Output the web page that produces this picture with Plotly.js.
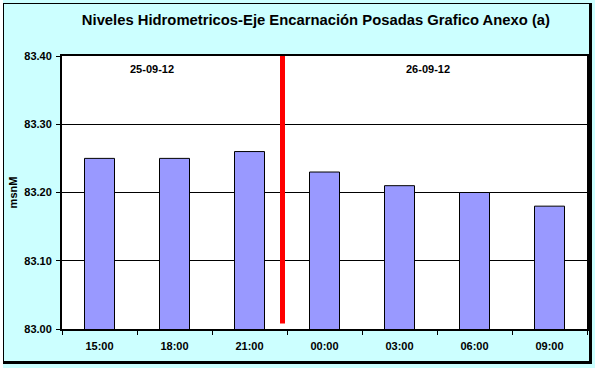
<!DOCTYPE html>
<html>
<head>
<meta charset="utf-8">
<script src="https://cdn.plot.ly/plotly-3.0.1.min.js"></script>
<style>
  html, body { margin: 0; padding: 0; background: #ffffff; }
  #wrap { position: relative; width: 595px; height: 368px; }
  #chart { width: 595px; height: 368px; }
  #frame { position: absolute; left: 3px; top: 3px; width: 589px; height: 361px;
           border-left: 1px solid #000; border-top: 1px solid #000;
           border-right: 3px solid #000; border-bottom: 3px solid #000;
           box-sizing: border-box; pointer-events: none; }
  #wrap::before { content: ""; position: absolute; left: 0; top: 0; width: 3px; height: 368px; background: #fff; z-index: 2; }
</style>
</head>
<body>
<div id="wrap">
  <div id="chart"></div>
  <div id="frame"></div>
</div>
<script>
const categories = ["15:00", "18:00", "21:00", "00:00", "03:00", "06:00", "09:00"];
const levels = [83.25, 83.25, 83.26, 83.23, 83.21, 83.20, 83.18];
const yTicks = [83.00, 83.10, 83.20, 83.30, 83.40];
const yTickLabels = ["83.00", "83.10", "83.20", "83.30", "83.40"];
const dayLabels = ["25-09-12", "26-09-12"];
const dividerPos = 2.44;       // category index position of the day divider
const dividerRange = [83.008, 83.40];

const bold = "Liberation Sans, Arial, sans-serif";

const trace = {
  type: "bar",
  x: categories,
  y: levels,
  base: 0,
  width: 0.4,
  marker: { color: "#9999FF", line: { color: "#000000", width: 1 } },
  hoverinfo: "x+y"
};

const layout = {
  width: 595,
  height: 368,
  paper_bgcolor: "#CCFFFF",
  plot_bgcolor: "#FFFFFF",
  margin: { l: 62, r: 8, t: 56, b: 39 },
  showlegend: false,
  title: {
    text: "<b>Niveles Hidrometricos-Eje Encarnación Posadas Grafico Anexo (a)</b>",
    font: { family: bold, size: 14.8, color: "#000000" },
    x: 0.531, xanchor: "center", y: 0.945, yanchor: "middle"
  },
  xaxis: {
    type: "category",
    range: [-0.5, 6.5],
    showline: true, linecolor: "#000", linewidth: 2, mirror: true,
    ticks: "outside", ticklen: 4, tickcolor: "#000", tickwidth: 1,
    tickson: "boundaries",
    ticklabelstandoff: 6,
    tickfont: { family: bold, size: 11, color: "#000" },
    tickprefix: "<b>", ticksuffix: "</b>",
    showgrid: false, zeroline: false, fixedrange: true
  },
  yaxis: {
    range: [83.0, 83.4],
    tickvals: yTicks,
    ticktext: yTickLabels.map(t => "<b>" + t + "</b>"),
    showline: true, linecolor: "#000", linewidth: 2, mirror: true,
    ticks: "outside", ticklen: 4, tickcolor: "#000", tickwidth: 1,
    ticklabelstandoff: 2,
    tickfont: { family: bold, size: 11, color: "#000" },
    showgrid: true, gridcolor: "#000", gridwidth: 1,
    zeroline: false, fixedrange: true,
    title: { text: "<b>msnM</b>", font: { family: bold, size: 11, color: "#000" }, standoff: 4 }
  },
  shapes: [{
    type: "line", xref: "x", yref: "y",
    x0: dividerPos, x1: dividerPos, y0: dividerRange[0], y1: dividerRange[1],
    line: { color: "#FF0000", width: 5 }
  }],
  annotations: [
    { text: "<b>" + dayLabels[0] + "</b>", xref: "paper", yref: "paper", x: 0.171, y: 0.952,
      xanchor: "center", yanchor: "middle",
      showarrow: false, font: { family: bold, size: 11, color: "#000" } },
    { text: "<b>" + dayLabels[1] + "</b>", xref: "paper", yref: "paper", x: 0.697, y: 0.952,
      xanchor: "center", yanchor: "middle",
      showarrow: false, font: { family: bold, size: 11, color: "#000" } }
  ]
};

Plotly.newPlot("chart", [trace], layout, { displayModeBar: false, staticPlot: true });
</script>
</body>
</html>
